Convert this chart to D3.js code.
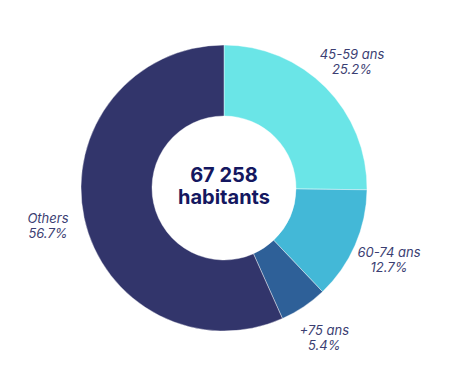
<!DOCTYPE html>
<html>
<head>
<meta charset="utf-8">
<script src="https://cdn.jsdelivr.net/npm/d3@7"></script>
<style>
  body { margin: 0; background: #fff; }
</style>
</head>
<body>
<div id="chart-area"></div>
<script>
// data
var labels = ["45-59 ans", "60-74 ans", "+75 ans", "Others"];
var shares = [25.2, 12.7, 5.4, 56.7];
var colors = ["#6ae5e7", "#43b8d7", "#2e6098", "#32356b"];
var total = "67 258";
var totalLabel = "habitants";

var width = 451;
var height = 389;
var cx = 224, cy = 188;
var outer = 143, inner = 72;

var svg = d3.select("#chart-area")
	.append("svg")
	.attr("width", width)
	.attr("height", height);

var g = svg.append("g")
	.attr("transform", "translate(" + cx + ", " + cy + ")");

var pie = d3.pie().sort(null).value((d) => { return d; });
var arcs = pie(shares);

var arc = d3.arc().innerRadius(inner).outerRadius(outer);
var labelArc = d3.arc().innerRadius(180).outerRadius(180);

g.selectAll("path").data(arcs)
	.enter()
	.append("path")
	.attr("d", arc)
	.attr("fill", (d, i) => { return colors[i]; })
	.attr("stroke", "#fff")
	.attr("stroke-width", 0.4);

var lab = g.selectAll(".lab").data(arcs)
	.enter()
	.append("text")
	.attr("class", "lab")
	.attr("transform", (d) => { return "translate(" + labelArc.centroid(d) + ")"; })
	.attr("text-anchor", "middle")
	.attr("font-family", "Inter, 'Open Sans', sans-serif")
	.attr("font-style", "italic")
	.attr("font-size", "13px")
	.attr("fill", "#3b3e72");

lab.append("tspan")
	.attr("x", 0)
	.attr("y", -3)
	.text((d, i) => { return labels[i]; });

lab.append("tspan")
	.attr("x", 0)
	.attr("y", 12)
	.text((d, i) => { return shares[i].toFixed(1) + "%"; });

g.append("text")
	.attr("text-anchor", "middle")
	.attr("y", -6)
	.attr("font-family", "Inter, 'Open Sans', sans-serif")
	.attr("font-weight", "bold")
	.attr("font-size", "20px")
	.attr("fill", "#141760")
	.text(total);

g.append("text")
	.attr("text-anchor", "middle")
	.attr("y", 16)
	.attr("font-family", "Inter, 'Open Sans', sans-serif")
	.attr("font-weight", "bold")
	.attr("font-size", "20px")
	.attr("fill", "#141760")
	.text(totalLabel);
</script>
</body>
</html>
